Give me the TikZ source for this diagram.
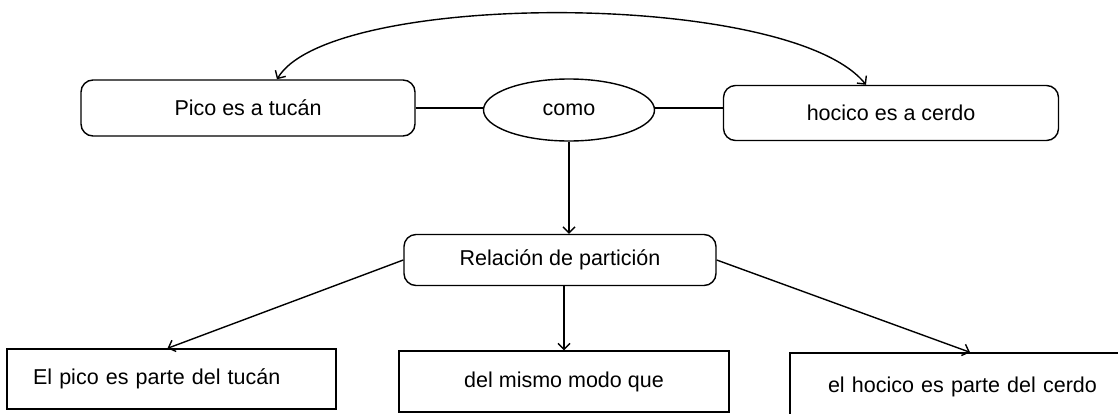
\documentclass[tikz,border=0pt]{standalone}
\usepackage{fontspec}
\setmainfont{Liberation Sans}
\usetikzlibrary{arrows.meta,shapes.geometric}
\begin{document}
\begin{tikzpicture}[x=1pt,y=-1pt, line width=1.4pt, font=\fontsize{21.5}{25}\selectfont,
  rbox/.style={draw, rounded corners=12pt, inner sep=0pt},
  sbox/.style={draw, inner sep=0pt},
  ell/.style={draw, ellipse, inner sep=0pt},
  arr/.style={-{Straight Barb[length=6pt,width=12pt]}},
  dbl/.style={{Straight Barb[length=6pt,width=12pt]}-{Straight Barb[length=6pt,width=12pt]}}]
\useasboundingbox (0,0) rectangle (1118,413);
\node[rbox, minimum width=334pt, minimum height=56pt] (pico) at (248,108) {Pico es a tucán};
\node[ell, minimum width=171pt, minimum height=62pt] (como) at (569,110) {como};
\node[rbox, minimum width=335pt, minimum height=55pt] (hocico) at (891,113) {hocico es a cerdo};
\node[rbox, minimum width=312pt, minimum height=51pt] (rel) at (560,260) {Relación de partición};
\node[sbox, text width=277pt, inner xsep=26pt, minimum height=60pt, align=left] (pico2) at (171.5,379) {El pico es parte del tucán};
\node[sbox, minimum width=330pt, minimum height=61pt] (mid) at (564,381.5) {del mismo modo que};
\node[sbox, text width=290pt, inner xsep=38pt, minimum height=68pt, align=left] (hoc2) at (973,387) {el hocico es parte del cerdo};
\draw (pico.east) -- (como.west |- pico.east);
\draw (como.east |- pico.east) -- (hocico.west |- pico.east);
\draw[dbl] ([xshift=29pt]pico.north) .. controls (330,-10) and (790,-10) .. ([xshift=-25pt]hocico.north);
\draw[arr] (como.south) -- (como.south |- rel.north);
\draw[arr] (rel.west) -- ([xshift=-4pt]pico2.north);
\draw[arr] (mid.north |- rel.south) -- (mid.north);
\draw[arr] (rel.east) -- ([xshift=-3pt]hoc2.north);
\end{tikzpicture}
\end{document}
